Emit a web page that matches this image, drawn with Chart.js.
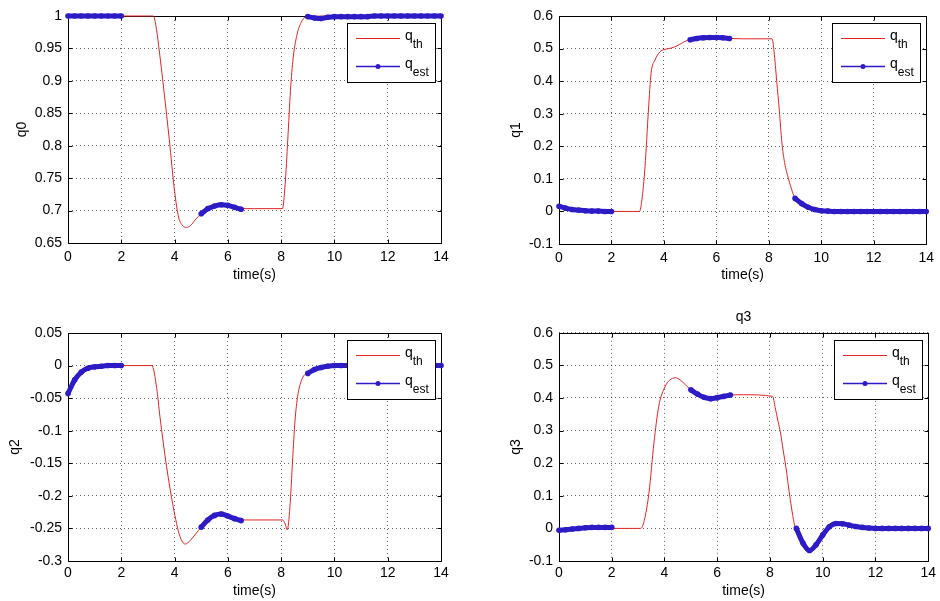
<!DOCTYPE html>
<html>
<head>
<meta charset="utf-8">
<title>q0..q3 estimation</title>
<script src="https://cdn.jsdelivr.net/npm/chart.js@4/dist/chart.umd.min.js"></script>
<style>
  body { margin: 0; background: #fff; width: 940px; height: 601px; overflow: hidden; position: relative; }
  canvas { position: absolute; }
</style>
</head>
<body>
<canvas id="c0" width="470" height="300" style="left:0;top:0"></canvas>
<canvas id="c1" width="470" height="300" style="left:470px;top:0"></canvas>
<canvas id="c2" width="470" height="301" style="left:0;top:300px"></canvas>
<canvas id="c3" width="470" height="301" style="left:470px;top:300px"></canvas>
<script>
// x axis
const timeTicks = [0, 2, 4, 6, 8, 10, 12, 14];
const timeLabels = ['0', '2', '4', '6', '8', '10', '12', '14'];

// estimator samples (three windows: 0-2 s, 5-6.5 s, 9-14 s)
const tEst = [0, 0.25, 0.5, 0.75, 1, 1.25, 1.5, 1.75, 2,
              5, 5.25, 5.5, 5.75, 6, 6.25, 6.5,
              9, 9.25, 9.5, 9.75, 10, 10.25, 10.5, 10.75, 11, 11.25, 11.5, 11.75, 12, 12.25, 12.5, 12.75, 13, 13.25, 13.5, 13.75, 14];

// q0
const tTh0 = [2, 3.2, 3.3, 3.4, 3.6, 3.8, 4.0, 4.15, 4.3, 4.45, 4.6, 4.8, 5.0, 5.25, 5.5, 5.75, 6.0, 6.25, 6.5, 7.0, 8.05, 8.15, 8.25, 8.35, 8.45, 8.6, 8.75, 8.95, 10, 12, 14];
const q0Th = [1, 1, 0.985, 0.955, 0.885, 0.81, 0.73, 0.69, 0.677, 0.674, 0.677, 0.687, 0.695, 0.703, 0.707, 0.709, 0.708, 0.705, 0.703, 0.703, 0.703, 0.74, 0.81, 0.885, 0.935, 0.972, 0.99, 0.999, 1, 1, 1];
const q0Est = [1, 1, 1, 1, 1, 1, 1, 1, 1,
               0.695, 0.703, 0.707, 0.709, 0.708, 0.705, 0.702,
               0.999, 0.997, 0.996, 0.998, 0.999, 0.999, 0.999, 0.999, 0.999, 0.999, 1, 1, 1, 1, 1, 1, 1, 1, 1, 1, 1];
const yTicks0 = [0.65, 0.7, 0.75, 0.8, 0.85, 0.9, 0.95, 1];
const yLabels0 = ['0.65', '0.7', '0.75', '0.8', '0.85', '0.9', '0.95', '1'];

// q1
const tTh1 = [2, 3.07, 3.16, 3.28, 3.41, 3.51, 3.66, 3.85, 4.0, 4.2, 4.4, 4.6, 4.8, 5.0, 5.5, 6.0, 6.5, 7.0, 8.12, 8.2, 8.3, 8.4, 8.5, 8.6, 8.75, 8.9, 9.0, 9.25, 9.5, 9.75, 10, 14];
const q1Th = [0, 0, 0.035, 0.137, 0.311, 0.424, 0.465, 0.49, 0.497, 0.5, 0.505, 0.513, 0.522, 0.527, 0.532, 0.533, 0.531, 0.53, 0.53, 0.49, 0.4, 0.31, 0.21, 0.15, 0.1, 0.06, 0.04, 0.024, 0.013, 0.006, 0.002, 0];
const q1Est = [0.016, 0.01, 0.006, 0.004, 0.002, 0.001, 0.001, 0, 0,
               0.527, 0.531, 0.533, 0.534, 0.534, 0.533, 0.531,
               0.04, 0.024, 0.013, 0.006, 0.002, 0.001, 0, 0, 0, 0, 0, 0, 0, 0, 0, 0, 0, 0, 0, 0, 0];
const yTicks1 = [-0.1, 0, 0.1, 0.2, 0.3, 0.4, 0.5, 0.6];
const yLabels1 = ['-0.1', '0', '0.1', '0.2', '0.3', '0.4', '0.5', '0.6'];

// q2
const tTh2 = [2, 3.15, 3.33, 3.45, 3.7, 3.95, 4.2, 4.4, 4.6, 4.8, 5.0, 5.25, 5.5, 5.75, 6.0, 6.25, 6.5, 7.0, 8.05, 8.15, 8.23, 8.33, 8.43, 8.52, 8.62, 8.77, 8.96, 9.25, 9.5, 9.75, 10, 14];
const q2Th = [0, 0, -0.035, -0.078, -0.155, -0.217, -0.262, -0.274, -0.268, -0.258, -0.248, -0.237, -0.23, -0.228, -0.231, -0.235, -0.237, -0.237, -0.237, -0.243, -0.252, -0.217, -0.145, -0.085, -0.047, -0.022, -0.011, -0.006, -0.003, -0.001, 0, 0];
const q2Est = [-0.043, -0.022, -0.01, -0.004, -0.002, -0.001, 0, 0, 0,
               -0.248, -0.237, -0.23, -0.228, -0.231, -0.235, -0.238,
               -0.012, -0.006, -0.003, -0.001, 0, 0, 0, 0, 0, 0, 0, 0, 0, 0, 0, 0, 0, 0, 0, 0, 0];
const yTicks2 = [-0.3, -0.25, -0.2, -0.15, -0.1, -0.05, 0, 0.05];
const yLabels2 = ['-0.3', '-0.25', '-0.2', '-0.15', '-0.1', '-0.05', '0', '0.05'];

// q3
const tTh3 = [2, 3.1, 3.25, 3.41, 3.6, 3.78, 4.03, 4.2, 4.41, 4.6, 4.8, 5.0, 5.25, 5.5, 5.75, 6.0, 6.25, 6.5, 7.0, 8.1, 8.2, 8.3, 8.4, 8.5, 8.6, 8.77, 8.96, 9.25, 9.5, 9.75, 10, 10.25, 10.5, 10.75, 11, 11.5, 12, 14];
const q3Th = [0, 0, 0.03, 0.108, 0.262, 0.374, 0.436, 0.455, 0.462, 0.455, 0.44, 0.425, 0.412, 0.402, 0.398, 0.401, 0.405, 0.409, 0.41, 0.405, 0.37, 0.33, 0.293, 0.24, 0.19, 0.088, 0, -0.045, -0.068, -0.05, -0.02, 0.005, 0.015, 0.014, 0.01, 0.003, 0, 0];
const q3Est = [-0.006, -0.004, -0.002, 0, 0.002, 0.003, 0.003, 0.003, 0.003,
               0.425, 0.412, 0.402, 0.398, 0.401, 0.405, 0.409,
               0, -0.045, -0.068, -0.05, -0.02, 0.005, 0.015, 0.014, 0.01, 0.006, 0.003, 0.001, 0, 0, 0, 0, 0, 0, 0, 0, 0];

const legendNames = [['q', 'th'], ['q', 'est']];

const RED = '#e02424';
const BLUE = '#2d1cc6';
const GRID = 'rgba(0,0,0,0.6)';
const FONT = '"Liberation Sans", Arial, sans-serif';

Chart.defaults.font.family = FONT;
Chart.defaults.font.size = 14;
Chart.defaults.color = '#000';

// panel layout (canvas-local pixels)
const panels = [
    { id: 'c0', name: 'q0', tTh: tTh0, th: q0Th, est: q0Est, yTicks: yTicks0, yLabels: yLabels0,
      pad: { left: 0, right: 29, top: 16, bottom: 0 }, yW: 68, xH: 57, yTitlePad: 14, xTitlePad: 16, xTickPad: 6 },
    { id: 'c1', name: 'q1', tTh: tTh1, th: q1Th, est: q1Est, yTicks: yTicks1, yLabels: yLabels1,
      pad: { left: 0, right: 7, top: 16, bottom: 0 }, yW: 89, xH: 56, yTitlePad: 38, xTitlePad: 16, xTickPad: 6 },
    { id: 'c2', name: 'q2', tTh: tTh2, th: q2Th, est: q2Est, yTicks: yTicks2, yLabels: yLabels2,
      pad: { left: 0, right: 29, top: 33, bottom: 0 }, yW: 68, xH: 40, yTitlePad: 7, xTitlePad: 1, xTickPad: 4 },
    { id: 'c3', name: 'q3', tTh: tTh3, th: q3Th, est: q3Est, yTicks: yTicks1, yLabels: yLabels1, title: 'q3',
      pad: { left: 0, right: 7, top: 0, bottom: 0 }, yW: 89, xH: 40, yTitlePad: 38, xTitlePad: 1, xTickPad: 4 }
];

function toPoints(ts, vs) {
    return ts.map((t, i) => ({ x: t, y: vs[i] }));
}

// break the estimator line between its sampling windows
function toSegments(ts, vs) {
    const out = [];
    ts.forEach((t, i) => {
        if (i > 0 && t - ts[i - 1] > 1) out.push({ x: (t + ts[i - 1]) / 2, y: null });
        out.push({ x: t, y: vs[i] });
    });
    return out;
}

function line(ctx, x1, y1, x2, y2) {
    ctx.beginPath();
    ctx.moveTo(x1, y1);
    ctx.lineTo(x2, y2);
    ctx.stroke();
}

// axes box with inward ticks, like the original figure
const framePlugin = {
    id: 'frame',
    beforeDatasetsDraw(chart) {
        const { ctx, chartArea: a, scales: { x, y } } = chart;
        const L = Math.round(a.left) + 0.5, R = Math.round(a.right) + 0.5;
        const T = Math.round(a.top) + 0.5, B = Math.round(a.bottom) + 0.5;
        ctx.save();
        ctx.strokeStyle = '#000';
        ctx.lineWidth = 1;
        ctx.strokeRect(L, T, R - L, B - T);
        x.ticks.forEach(t => {
            const px = Math.round(x.getPixelForValue(t.value)) + 0.5;
            line(ctx, px, B, px, B - 4);
            line(ctx, px, T, px, T + 4);
        });
        y.ticks.forEach(t => {
            const py = Math.round(y.getPixelForValue(t.value)) + 0.5;
            line(ctx, L, py, L + 4, py);
            line(ctx, R, py, R - 4, py);
        });
        ctx.restore();
    },
    afterDraw(chart) {
        const { ctx, chartArea: a } = chart;
        const bw = 88, bh = 59;
        const bx = Math.round(a.right) - 6 - bw, by = Math.round(a.top) + 7;
        ctx.save();
        ctx.fillStyle = '#fff';
        ctx.fillRect(bx, by, bw, bh);
        ctx.strokeStyle = '#000';
        ctx.lineWidth = 1;
        ctx.strokeRect(bx + 0.5, by + 0.5, bw, bh);

        const rows = [
            { y: 15, color: RED, width: 1, marker: false },
            { y: 43, color: BLUE, width: 1.5, marker: true }
        ];
        rows.forEach((r, i) => {
            ctx.strokeStyle = r.color;
            ctx.lineWidth = r.width;
            line(ctx, bx + 9, by + r.y + 0.5, bx + 53, by + r.y + 0.5);
            if (r.marker) {
                ctx.fillStyle = r.color;
                ctx.beginPath();
                ctx.arc(bx + 31, by + r.y + 0.5, 2.5, 0, Math.PI * 2);
                ctx.fill();
            }
            const [main, sub] = legendNames[i];
            ctx.fillStyle = '#000';
            ctx.textBaseline = 'alphabetic';
            ctx.font = '14px ' + FONT;
            ctx.fillText(main, bx + 58, by + r.y + 2);
            const w = ctx.measureText(main).width;
            ctx.font = '12px ' + FONT;
            ctx.fillText(sub, bx + 58 + w, by + r.y + 10);
        });
        ctx.restore();
    }
};

panels.forEach(p => {
    new Chart(document.getElementById(p.id), {
        type: 'line',
        data: {
            datasets: [{
                label: 'q_th',
                data: toPoints(p.tTh, p.th),
                order: 2,
                borderColor: RED,
                borderWidth: 1,
                pointRadius: 0,
                cubicInterpolationMode: 'monotone',
                clip: false
            }, {
                label: 'q_est',
                data: toSegments(tEst, p.est),
                order: 1,
                borderColor: BLUE,
                backgroundColor: BLUE,
                borderWidth: 5,
                pointRadius: 2.8,
                pointBorderWidth: 0,
                pointBackgroundColor: BLUE,
                cubicInterpolationMode: 'monotone',
                spanGaps: false,
                clip: false
            }]
        },
        options: {
            responsive: false,
            animation: false,
            events: [],
            layout: { padding: p.pad },
            plugins: {
                legend: { display: false },
                tooltip: { enabled: false },
                title: {
                    display: !!p.title,
                    text: p.title || '',
                    fullSize: false,
                    color: '#000',
                    font: { size: 14, weight: 'normal' },
                    padding: { top: 9, bottom: 7 }
                }
            },
            scales: {
                x: {
                    type: 'linear',
                    min: 0,
                    max: 14,
                    afterBuildTicks: s => { s.ticks = timeTicks.map(v => ({ value: v })); },
                    afterFit: s => { s.height = p.xH; },
                    ticks: {
                        autoSkip: false,
                        maxRotation: 0,
                        padding: p.xTickPad,
                        color: '#000',
                        callback: (v, i) => timeLabels[i]
                    },
                    grid: { color: GRID, drawTicks: false, lineWidth: 1 },
                    border: { display: false, dash: [1, 3] },
                    title: { display: true, text: 'time(s)', color: '#000', padding: { top: 0, bottom: p.xTitlePad } }
                },
                y: {
                    type: 'linear',
                    min: p.yTicks[0],
                    max: p.yTicks[p.yTicks.length - 1],
                    afterBuildTicks: s => { s.ticks = p.yTicks.map(v => ({ value: v })); },
                    afterFit: s => { s.width = p.yW; },
                    ticks: {
                        autoSkip: false,
                        padding: 6,
                        color: '#000',
                        callback: (v, i) => p.yLabels[i]
                    },
                    grid: { color: GRID, drawTicks: false, lineWidth: 1 },
                    border: { display: false, dash: [1, 3] },
                    title: { display: true, text: p.name, color: '#000', padding: { top: p.yTitlePad, bottom: 0 } }
                }
            }
        },
        plugins: [framePlugin]
    });
});
</script>
</body>
</html>
